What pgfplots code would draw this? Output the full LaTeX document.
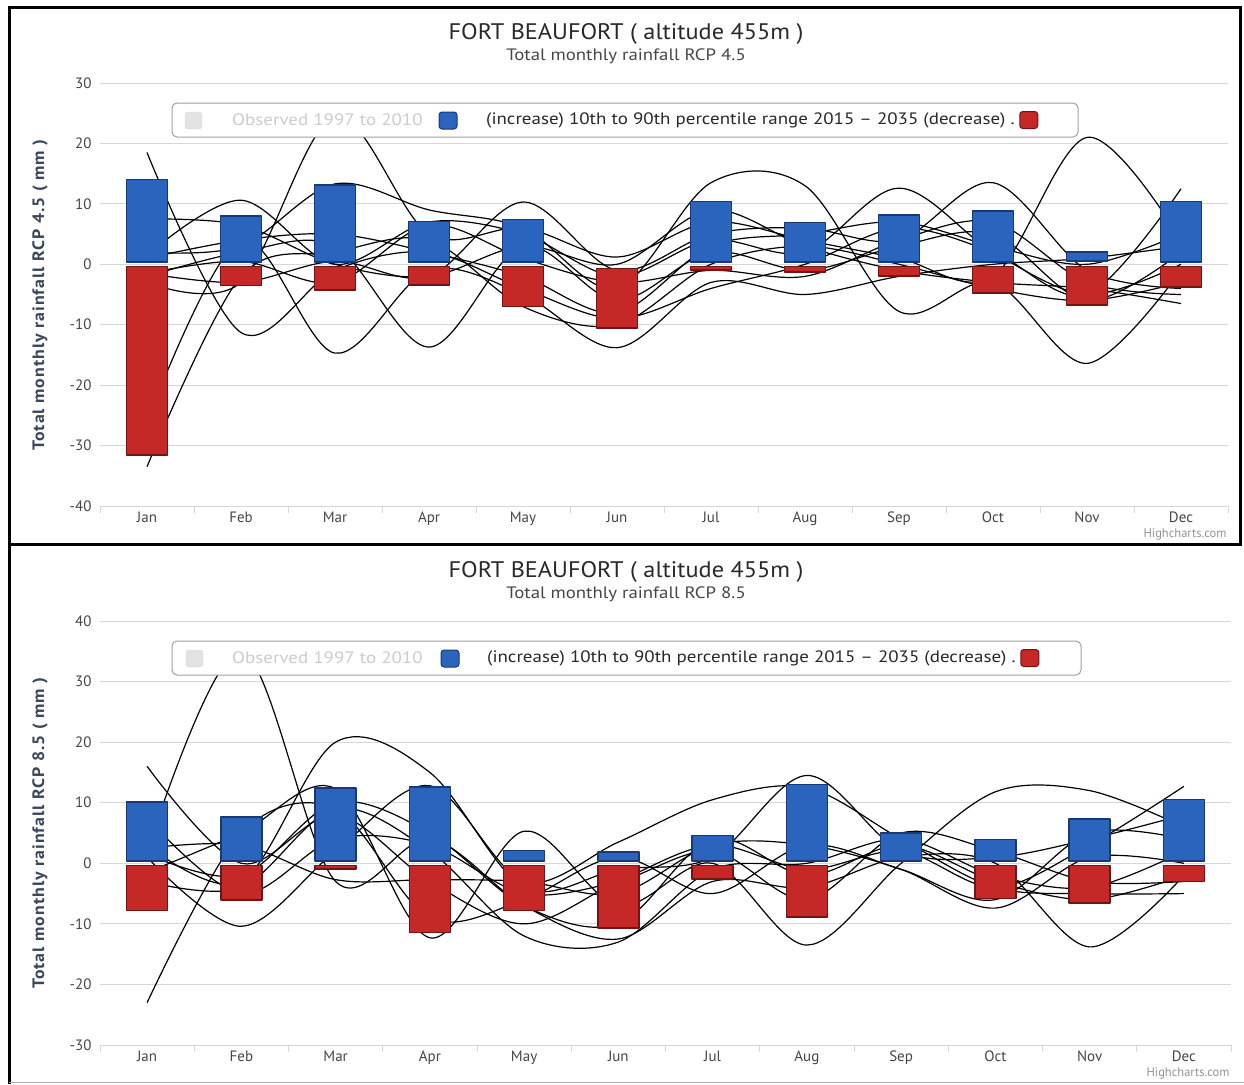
\documentclass[border=0pt]{standalone}
\usepackage{fontspec}
\setmainfont{PT Sans}
\newfontfamily\titlefont{PT Sans}[FakeStretch=1.08]
\newfontfamily\subfont{PT Sans}[FakeStretch=1.14]
\newfontfamily\legfont{PT Sans}[FakeStretch=1.15]
\newfontfamily\ylabfont{PT Sans Bold}[FakeStretch=1.08, LetterSpace=6]
\usepackage{pgfplots}
\usepackage{pgfplotstable}
\usetikzlibrary{calc}
\pgfplotsset{compat=1.18}

\definecolor{hcblue}{RGB}{43,100,189}
\definecolor{hcblueedge}{RGB}{22,58,120}
\definecolor{hcred}{RGB}{198,40,40}
\definecolor{hcrededge}{RGB}{115,20,20}
\definecolor{gridc}{RGB}{214,214,214}
\definecolor{labc}{RGB}{70,70,70}
\definecolor{ylabc}{RGB}{58,70,90}
\definecolor{titc}{RGB}{40,40,40}

% model lines, panel 1 (RCP 4.5)
\pgfplotstableread{
m a b c d e f g h i j k
0 18.5 7.5 1.5 -1.5 -3 2 -26 -2 -33.5 1 -1.5
1 -11.3 6.5 10.6 -3 -3 3 4 2 -2 4 0.5
2 -1 0 0 0.5 24.5 13.3 -14.7 3 2 5 -3
3 2 -2 7 -2 5 9 -1 -13.7 4 2 6.5
4 -4 3 5 10.3 6 6 -5 3 -7 -2 1
5 -9 0 -2 -1 1.2 -4 -13.8 -6 -10 -8 -3
6 -4 9 4 5 7 13.5 -3 2 0 3 -1
7 0 3 2 6 4 13 -5 -1 3 5 -2
8 6 -1 12.6 4 1 -7.8 -2 3 0 7 4
9 2 -3 2 13.5 -2 -3 0 5 -4 3 7
10 -5 -4 -5 -1 21 -16.4 1 -6 -6 0 -3
11 12.5 -6.5 0 -4 4 -1 3 2 -3 5 -5
}\lineone
% model lines, panel 2 (RCP 8.5)
\pgfplotstableread{
m a b c d e f g h i j
0 16 2 3 1 -1.5 2.5 -3 7.5 -23 1.5
1 0 35 -3 -10.4 5 3 -4 -5 5 -2
2 8 -3 20 2 12.3 -2.7 9 4 9 10
3 -3 4 15 12.8 -12.3 -2.7 2 3 -9 5
4 -10 -7 -4 -3 5.3 -3 -12 -5 -6 -7
5 -3 -12.5 -1 3.5 -7 -5 -13 -3 1 -10
6 3 -3 1 10.5 0 3 -1 2 -5 4
7 -1 -4 14.5 12.5 -13.5 3 0 -6 3 -2
8 2 1 2 4 0 -1 4 5 -1 3
9 -4 0 1 -4 11.8 -7.4 -2 2 -6 -3
10 3 -13.8 4 -5 12 1 -4 -3 5 -6
11 12.7 -2 8 -5 6 0 2 -3 4 -2
}\linetwo
% bars: offset o, height h (stacked on offset)
\pgfplotstableread{
m o h
0 0.35 13.65
1 0.35 7.65
2 0.35 12.75
3 0.35 6.75
4 0.35 7.05
6 0.35 10.05
7 0.35 6.55
8 0.35 7.85
9 0.35 8.45
10 0.5 1.5
11 0.35 10.05
}\blueone
\pgfplotstableread{
m o h
0 -0.35 -31.25
1 -0.35 -3.15
2 -0.35 -3.95
3 -0.35 -3.05
4 -0.35 -6.65
5 -0.7 -9.8
6 -0.35 -0.55
7 -0.35 -0.95
8 -0.35 -1.55
9 -0.35 -4.45
10 -0.35 -6.35
11 -0.35 -3.45
}\redone
\pgfplotstableread{
m o h
0 0.35 9.75
1 0.35 7.25
2 0.35 12.05
3 0.35 12.25
4 0.35 1.75
5 0.35 1.55
6 0.35 4.25
7 0.35 12.65
8 0.35 4.65
9 0.35 3.55
10 0.35 6.95
11 0.35 10.15
}\bluetwo
\pgfplotstableread{
m o h
0 -0.35 -7.45
1 -0.35 -5.75
2 -0.35 -0.55
3 -0.35 -11.05
4 -0.35 -7.45
5 -0.35 -10.35
6 -0.35 -2.25
7 -0.35 -8.55
9 -0.35 -5.45
10 -0.35 -6.25
11 -0.35 -2.65
}\redtwo

\pgfplotsset{
  common/.style={scale only axis, xmin=-0.5, xmax=11.5, anchor=north west},
  mainax/.style={common,
    ymajorgrids, grid style={gridc, line width=1pt},
    xtick={0,...,11}, xticklabels={Jan,Feb,Mar,Apr,May,Jun,Jul,Aug,Sep,Oct,Nov,Dec},
    minor xtick={-0.5,0.5,...,11.5},
    major tick length=0pt, minor tick length=7pt, tick align=outside,
    xtick pos=left, ytick pos=left,
    minor tick style={gridc, line width=1pt},
    axis line style={draw=none},
    tick label style={font=\fontsize{15}{18}\selectfont, text=labc},
    xticklabel style={yshift=-2pt}, yticklabel style={xshift=-5pt}},
  barax/.style={common, hide axis, ybar stacked, bar width=41pt},
  mline/.style={black, line width=1.2pt, smooth, tension=0.55, no markers},
  bbar/.style={fill=hcblue, draw=hcblueedge, line width=1.6pt, line join=round},
  rbar/.style={fill=hcred, draw=hcrededge, line width=1.6pt, line join=round},
}

\begin{document}
\begin{tikzpicture}
\path[use as bounding box] (0,0) rectangle (1244pt,-1084pt);
\fill[white] (0,0) rectangle (1244pt,-1084pt);

% ---------------- Panel 1 ----------------
\begin{axis}[mainax, at={(100pt,-83pt)}, width=1128pt, height=423pt,
  ymin=-40, ymax=30, ytick={-40,-30,...,30},
  yticklabels={-40,-30,-20,-10,0,10,20,30}]
\addplot[mline] table[x=m,y=a]{\lineone};
\addplot[mline] table[x=m,y=b]{\lineone};
\addplot[mline] table[x=m,y=c]{\lineone};
\addplot[mline] table[x=m,y=d]{\lineone};
\addplot[mline] table[x=m,y=e]{\lineone};
\addplot[mline] table[x=m,y=f]{\lineone};
\addplot[mline] table[x=m,y=g]{\lineone};
\addplot[mline] table[x=m,y=h]{\lineone};
\addplot[mline] table[x=m,y=i]{\lineone};
\addplot[mline] table[x=m,y=j]{\lineone};
\addplot[mline] table[x=m,y=k]{\lineone};
\end{axis}
\begin{axis}[barax, at={(100pt,-83pt)}, width=1128pt, height=423pt, ymin=-40, ymax=30]
\addplot[draw=none, fill=none] table[x=m,y=o]{\blueone};
\addplot[bbar] table[x=m,y=h]{\blueone};
\end{axis}
\begin{axis}[barax, at={(100pt,-83pt)}, width=1128pt, height=423pt, ymin=-40, ymax=30]
\addplot[draw=none, fill=none] table[x=m,y=o]{\redone};
\addplot[rbar] table[x=m,y=h]{\redone};
\end{axis}

% ---------------- Panel 2 ----------------
\begin{axis}[mainax, at={(100pt,-621pt)}, width=1131pt, height=424pt,
  ymin=-30, ymax=40, ytick={-30,-20,...,40},
  yticklabels={-30,-20,-10,0,10,20,30,40}]
\addplot[mline] table[x=m,y=a]{\linetwo};
\addplot[mline] table[x=m,y=b]{\linetwo};
\addplot[mline] table[x=m,y=c]{\linetwo};
\addplot[mline] table[x=m,y=d]{\linetwo};
\addplot[mline] table[x=m,y=e]{\linetwo};
\addplot[mline] table[x=m,y=f]{\linetwo};
\addplot[mline] table[x=m,y=g]{\linetwo};
\addplot[mline] table[x=m,y=h]{\linetwo};
\addplot[mline] table[x=m,y=i]{\linetwo};
\addplot[mline] table[x=m,y=j]{\linetwo};
\end{axis}
\begin{axis}[barax, at={(100pt,-621pt)}, width=1131pt, height=424pt, ymin=-30, ymax=40]
\addplot[draw=none, fill=none] table[x=m,y=o]{\bluetwo};
\addplot[bbar] table[x=m,y=h]{\bluetwo};
\end{axis}
\begin{axis}[barax, at={(100pt,-621pt)}, width=1131pt, height=424pt, ymin=-30, ymax=40]
\addplot[draw=none, fill=none] table[x=m,y=o]{\redtwo};
\addplot[rbar] table[x=m,y=h]{\redtwo};
\end{axis}

% ---------------- titles, labels ----------------
\foreach \yo/\rcp in {0/4.5,538/8.5}{
  \node[text=titc, font=\titlefont\fontsize{22.5}{26}\selectfont] at (626pt,{-34pt-\yo pt}) {FORT BEAUFORT ( altitude 455m )};
  \node[text=labc, font=\subfont\fontsize{16.5}{19}\selectfont] at (626pt,{-56pt-\yo pt}) {Total monthly rainfall RCP \rcp};
  \node[rotate=90, text=ylabc, font=\ylabfont\fontsize{16.5}{19}\selectfont] at (40pt,{-295pt-\yo pt}) {Total monthly rainfall RCP \rcp\ ( mm )};
}
% ---------------- legends ----------------
\draw[rounded corners=5pt, draw=gray!75, fill=white, line width=1pt] (172pt,-103pt) rectangle (1078pt,-137pt);
\filldraw[rounded corners=3pt, fill=gray!22, draw=gray!30] (185pt,-112pt) rectangle (202pt,-129pt);
\node[anchor=west, inner sep=0pt, text=gray!40, font=\legfont\fontsize{16.5}{19}\selectfont] at (232pt,-120pt) {Observed 1997 to 2010};
\filldraw[rounded corners=3pt, fill=hcblue, draw=hcblueedge, line width=1pt] (439pt,-112pt) rectangle (457pt,-129pt);
\node[anchor=west, inner sep=0pt, text=titc, font=\legfont\fontsize{16.5}{19}\selectfont] (lt1) at (486pt,-120pt) {(increase) 10th to 90th percentile range 2015 – 2035 (decrease) .};
\filldraw[rounded corners=3pt, fill=hcred, draw=hcrededge, line width=1pt] ($(lt1.east)+(5pt,8.5pt)$) rectangle ++(18pt,-17pt);

\draw[rounded corners=5pt, draw=gray!75, fill=white, line width=1pt] (172pt,-641pt) rectangle (1081pt,-675pt);
\filldraw[rounded corners=3pt, fill=gray!22, draw=gray!30] (186pt,-650pt) rectangle (203pt,-667pt);
\node[anchor=west, inner sep=0pt, text=gray!40, font=\legfont\fontsize{16.5}{19}\selectfont] at (232pt,-658pt) {Observed 1997 to 2010};
\filldraw[rounded corners=3pt, fill=hcblue, draw=hcblueedge, line width=1pt] (441pt,-650pt) rectangle (459pt,-667pt);
\node[anchor=west, inner sep=0pt, text=titc, font=\legfont\fontsize{16.5}{19}\selectfont] (lt2) at (487pt,-658pt) {(increase) 10th to 90th percentile range 2015 – 2035 (decrease) .};
\filldraw[rounded corners=3pt, fill=hcred, draw=hcrededge, line width=1pt] ($(lt2.east)+(5pt,8.5pt)$) rectangle ++(18pt,-17pt);
% credits
\node[anchor=east, text=gray!85, font=\fontsize{12.5}{15}\selectfont] at (1230pt,-534pt) {Highcharts.com};
\node[anchor=east, text=gray!85, font=\fontsize{12.5}{15}\selectfont] at (1233pt,-1073pt) {Highcharts.com};
% frames
\draw[line width=3pt] (9pt,-7pt) rectangle (1240pt,-544pt);
\draw[line width=3pt] (9pt,-544pt) -- (9pt,-1084pt);
\draw[gray!60, line width=1pt] (9pt,-1082pt) -- (1244pt,-1082pt);
\end{tikzpicture}
\end{document}
